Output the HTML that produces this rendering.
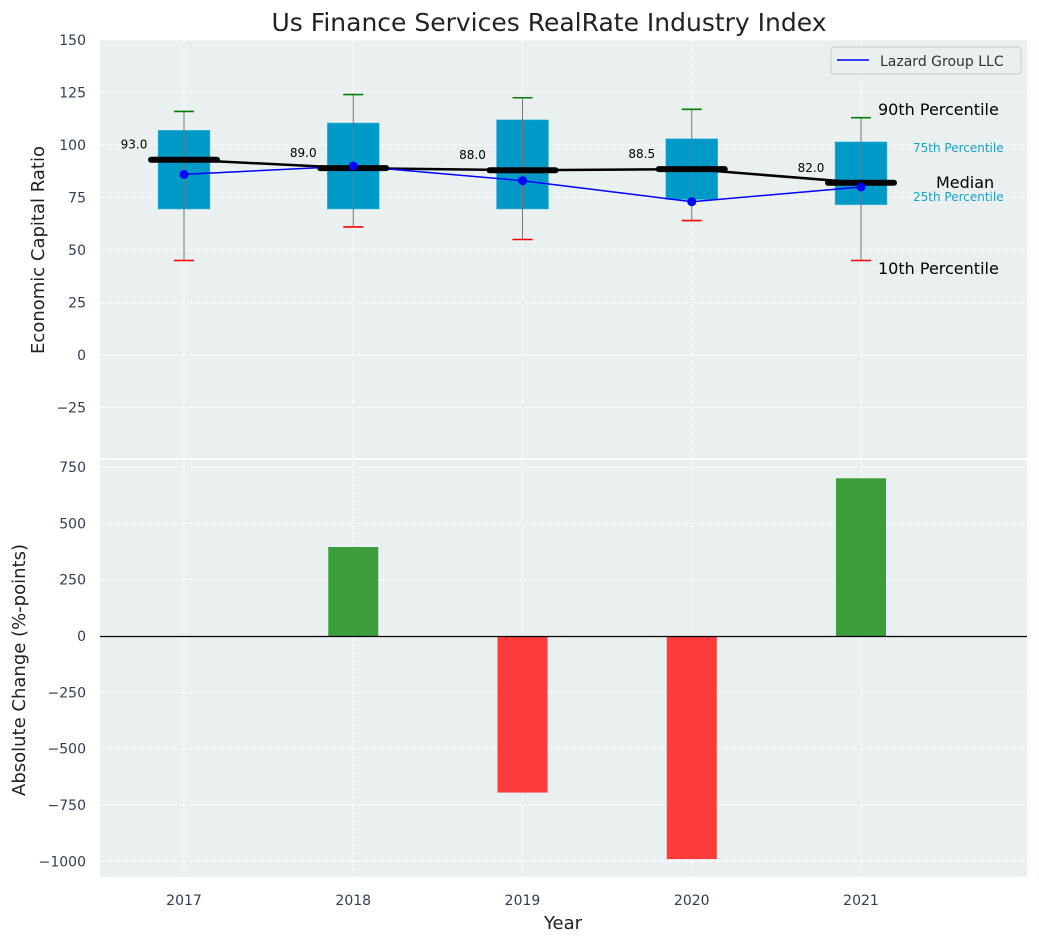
<!DOCTYPE html>
<html><head><meta charset="utf-8"><style>
body{margin:0;background:#fff;font-family:"Liberation Sans","DejaVu Sans",sans-serif;}
svg text{font-family:"DejaVu Sans","Liberation Sans",sans-serif;}
</style></head><body>
<svg id="c" width="1039" height="942" viewBox="0 0 1039 942"></svg>
<script>
const years=[2017,2018,2019,2020,2021];
const p10=[45,61,55,64,45];
const p25=[69.5,69.5,69.5,74,71.5];
const p75=[107,110.5,112,103,101.5];
const p90=[116,124,122.5,117,113];
const medians=[93,89,88,88.5,82];
const lazard=[86,90,83,73,80];
const changes=[0,395,-695,-990,700];
const topTicks=[-25,0,25,50,75,100,125,150];
const botTicks=[-1000,-750,-500,-250,0,250,500,750];

const svg=document.getElementById('c');const NS='http://www.w3.org/2000/svg';
function el(t,a,p){const e=document.createElementNS(NS,t);for(const k in a)e.setAttribute(k,a[k]);(p||svg).appendChild(e);return e;}
const L=100,R=1027;
const X=v=>184+(v-2017)*169.25;
const Y1=v=>355-v*2.1;
const Y2=v=>636-v*0.2253;
let b=el('rect',{x:L,y:40,width:R-L,height:418,fill:'#eaeff0'});

b=el('rect',{x:L,y:460,width:R-L,height:417,fill:'#eaeff0'});

for(const y of years){el('line',{x1:X(y),x2:X(y),y1:40,y2:458,stroke:'#fff','stroke-dasharray':'5,3','stroke-width':1});el('line',{x1:X(y),x2:X(y),y1:460,y2:877,stroke:'#fff','stroke-dasharray':'5,3','stroke-width':1});}
for(const t of topTicks){el('line',{x1:L,x2:R,y1:Y1(t),y2:Y1(t),stroke:'#fff','stroke-dasharray':'5,3'});
 const tx=el('text',{x:86,y:Y1(t)+5,'text-anchor':'end','font-size':14,fill:'#2e3e55'});tx.textContent=t<0?'\u2212'+(-t):t;
 }
for(const t of botTicks){el('line',{x1:L,x2:R,y1:Y2(t),y2:Y2(t),stroke:'#fff','stroke-dasharray':'5,3'});
 const tx=el('text',{x:86,y:Y2(t)+5,'text-anchor':'end','font-size':14,fill:'#2e3e55'});tx.textContent=t<0?'\u2212'+(-t):t;
 }
years.forEach((y,i)=>{const x=X(y);
 const r=el('rect',{x:x-26,y:Y1(p75[i]),width:52,height:Y1(p25[i])-Y1(p75[i]),fill:'#009ac9',stroke:'#5fc0e0','stroke-width':0.5});
 
 el('line',{x1:x,x2:x,y1:Y1(p90[i]),y2:Y1(p10[i]),stroke:'#777','stroke-width':1});
 el('line',{x1:x-10,x2:x+10,y1:Y1(p90[i]),y2:Y1(p90[i]),stroke:'green','stroke-width':1.6});
 el('line',{x1:x-10,x2:x+10,y1:Y1(p10[i]),y2:Y1(p10[i]),stroke:'red','stroke-width':1.6});
});
let pts=years.map((y,i)=>X(y)+','+Y1(medians[i])).join(' ');
let pl=el('polyline',{points:pts,fill:'none',stroke:'#000','stroke-width':2.5});

pts=years.map((y,i)=>X(y)+','+Y1(lazard[i])).join(' ');
pl=el('polyline',{points:pts,fill:'none',stroke:'#0000ff','stroke-width':1.5});

years.forEach((y,i)=>{
 const m=el('line',{x1:X(y)-33,x2:X(y)+33,y1:Y1(medians[i]),y2:Y1(medians[i]),stroke:'#000','stroke-width':6,'stroke-linecap':'round'});
 
 const c=el('circle',{cx:X(y),cy:Y1(lazard[i]),r:4.5,fill:'#0000ff'});
 
 const t=el('text',{x:X(y)-50,y:Y1(medians[i])-11,'text-anchor':'middle','font-size':12,fill:'#000'});t.textContent=medians[i].toFixed(1);
 
});
const ann=[['90th Percentile',878,115,16,'#000'],['75th Percentile',913,152,12,'#1aa0d0'],['Median',936,188,16,'#000'],['25th Percentile',913,201,12,'#1aa0d0'],['10th Percentile',878,274,16,'#000']];
ann.forEach(a=>{const t=el('text',{x:a[1],y:a[2],'font-size':a[3],fill:a[4]});t.textContent=a[0];});
const lg=el('g',{});
el('rect',{x:831,y:47,width:190,height:27,rx:3,fill:'#eaeff0',stroke:'#ccc'},lg);
el('line',{x1:837,x2:869,y1:60,y2:60,stroke:'#0000ff','stroke-width':1.5},lg);
let lt=el('text',{x:880,y:66,'font-size':14,fill:'#333'},lg);lt.textContent='Lazard Group LLC';
years.forEach((y,i)=>{const v=changes[i];if(v===0)return;
 const r=el('rect',{x:X(y)-25,y:Math.min(Y2(v),Y2(0)),width:50,height:Math.abs(Y2(v)-Y2(0)),fill:v>0?'#3b9e3b':'#fd3b3b'});
 });
const zl=el('line',{x1:L,x2:R,y1:Y2(0)+0.5,y2:Y2(0)+0.5,stroke:'#000','stroke-width':1.2});

years.forEach(y=>{const t=el('text',{x:X(y),y:905,'text-anchor':'middle','font-size':14,fill:'#2e3e55'});t.textContent=y;});
let t=el('text',{x:549,y:31,'text-anchor':'middle','font-size':25,fill:'#222'});t.textContent='Us Finance Services RealRate Industry Index';
t=el('text',{x:563,y:929,'text-anchor':'middle','font-size':18,fill:'#222'});t.textContent='Year';
t=el('text',{x:0,y:0,'text-anchor':'middle','font-size':18,fill:'#222',transform:'translate(44,250) rotate(-90)'});t.textContent='Economic Capital Ratio';
t=el('text',{x:0,y:0,'text-anchor':'middle','font-size':18,fill:'#222',transform:'translate(25,670) rotate(-90)'});t.textContent='Absolute Change (%-points)';
</script>
</body></html>
